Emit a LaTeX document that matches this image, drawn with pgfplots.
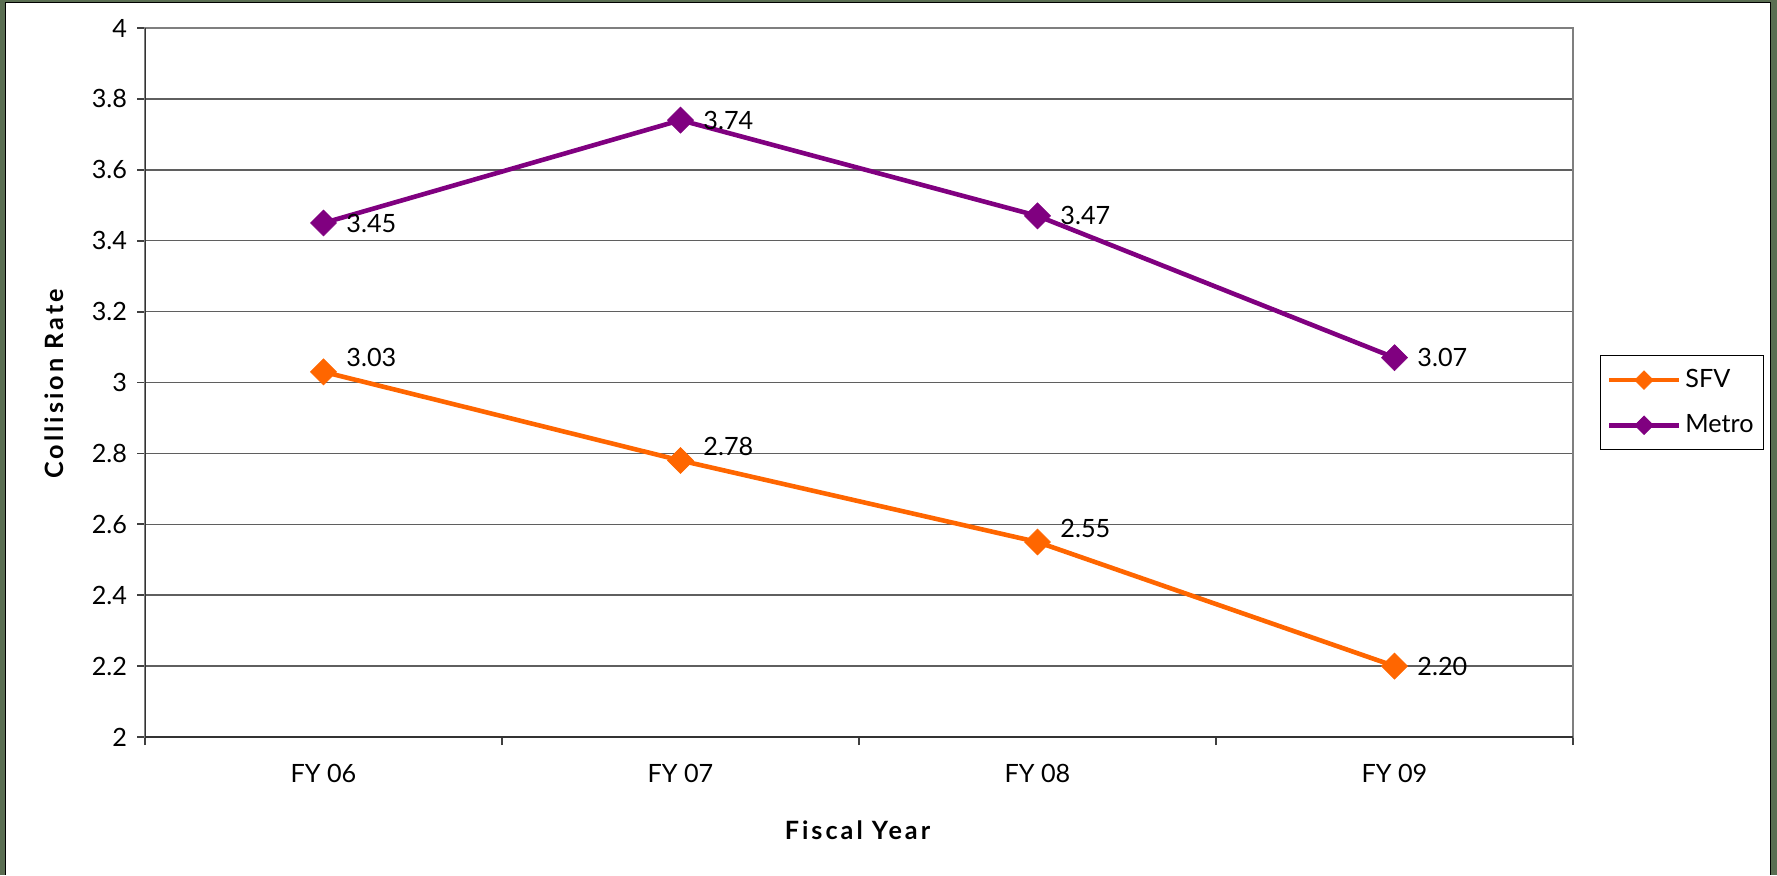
\documentclass[border=0pt]{standalone}
\usepackage{pgfplots}
\pgfplotsset{compat=1.18}
\usepackage{pgfplotstable}
\usepackage{fontspec}
\setmainfont{Lato}
\definecolor{sfv}{HTML}{FF6600}
\definecolor{metro}{HTML}{800080}
\definecolor{framec}{RGB}{90,110,82}
\definecolor{gridc}{HTML}{5F5F5F}
\pgfplotstableread{
x y dy
0 3.03 7
1 2.78 7
2 2.55 7
3 2.20 0
}\sfvdata
\pgfplotstableread{
x y dy
0 3.45 0
1 3.74 0
2 3.47 0
3 3.07 0
}\metrodata
\newcommand{\fs}{\fontsize{12.6}{15}\selectfont}
\begin{document}
\begin{tikzpicture}
\fill[framec] (0,0) rectangle (888.5pt,437.5pt);
\fill[black] (2.5pt,0) rectangle (885.5pt,436.5pt);
\fill[white] (3pt,0) rectangle (885pt,436pt);
\useasboundingbox (0,0) rectangle (888.5pt,437.5pt);
\begin{axis}[
  /pgf/number format/assume math mode=true,
  at={(72.5pt,69pt)}, anchor=south west,
  scale only axis, width=714pt, height=354.5pt,
  xmin=-0.5, xmax=3.5, ymin=2, ymax=4,
  xtick={-0.5,0.5,1.5,2.5,3.5}, xticklabels={},
  extra x ticks={0,1,2,3},
  extra x tick labels={FY 06,FY 07,FY 08,FY 09},
  extra x tick style={major tick length=0pt, grid=none,
    xticklabel style={yshift=-10pt}},
  ytick={2,2.2,2.4,2.6,2.8,3,3.2,3.4,3.6,3.8,4},
  yticklabels={2,2.2,2.4,2.6,2.8,3,3.2,3.4,3.6,3.8,4},
  yticklabel style={xshift=-1.5pt},
  ymajorgrids, grid style={draw=gridc, line width=0.75pt},
  axis line style={draw=gridc!80, line width=0.75pt},
  tick pos=left, tick align=outside, major tick length=4pt,
  tick style={draw=black!75, line width=0.9pt},
  every tick label/.append style={font=\fs},
  xlabel={\textbf{\addfontfeature{LetterSpace=12}Fiscal Year}},
  ylabel={\textbf{\addfontfeature{LetterSpace=12}Collision Rate}},
  every axis x label/.style={at={(axis description cs:0.5,0)}, anchor=center, yshift=-46.5pt, font=\fs},
  every axis y label/.style={at={(axis description cs:-0.0637,0.5)}, anchor=center, rotate=90, font=\fs},
  legend style={at={(1.019,0.539)}, anchor=north west, draw=black, line width=0.6pt,
    font=\fs, inner xsep=3pt, inner ysep=5pt, row sep=8pt, cells={anchor=west}},
  legend image code/.code={
    \draw[#1] (0pt,0pt) -- (35pt,0pt);
    \draw[#1, mark size=3.3pt] plot coordinates {(17.5pt,0pt)};
  },
  point meta=y,
  visualization depends on={\thisrow{dy} \as \dy},
  nodes near coords={\pgfmathprintnumber[fixed,zerofill,precision=2]{\pgfplotspointmeta}},
  nodes near coords style={anchor=west, xshift=8pt, yshift=\dy pt, font=\fs, text=black},
]
\addplot[sfv, line width=2.3pt, mark=square*, mark size=4.6pt,
  mark options={rotate=45, solid, fill=sfv, draw=sfv, line width=0.3pt}]
  table[x=x, y=y] {\sfvdata};
\addlegendentry{SFV}
\addplot[metro, line width=2.3pt, mark=square*, mark size=4.6pt,
  mark options={rotate=45, solid, fill=metro, draw=metro, line width=0.3pt}]
  table[x=x, y=y] {\metrodata};
\addlegendentry{Metro}
\draw[black!80, line width=1pt] (rel axis cs:0,1) -- (rel axis cs:0,0) -- (rel axis cs:1,0);
\end{axis}
\end{tikzpicture}
\end{document}
